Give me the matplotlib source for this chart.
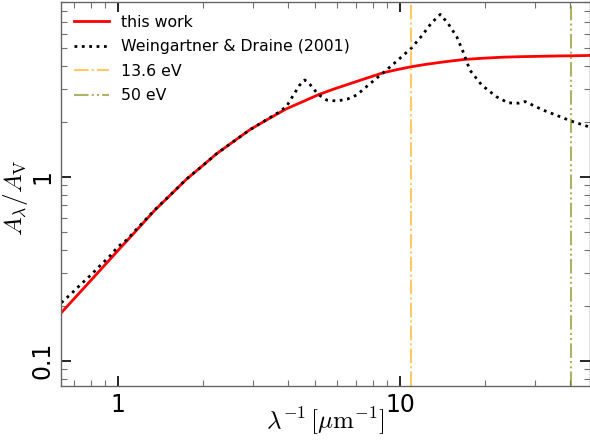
import matplotlib
matplotlib.use("Agg")
import matplotlib.pyplot as plt
from matplotlib.ticker import FixedLocator, NullFormatter

# model curve ("this work"), x in 1/micron
red_x = [0.628, 0.817, 1.0, 1.15, 1.353, 1.55, 1.75, 1.98, 2.24, 2.57, 2.94,
         3.4, 3.96, 4.5, 5.13, 5.8, 6.5, 7.5, 8.73, 9.8, 11.0, 12.4, 13.9,
         15.3, 17.0, 20.0, 23.0, 26.6, 31.0, 36.0, 40.6, 47.2]
red_y = [0.182, 0.283, 0.398, 0.503, 0.661, 0.810, 0.972, 1.14, 1.34, 1.56, 1.81,
         2.06, 2.35, 2.56, 2.80, 3.00, 3.18, 3.42, 3.69, 3.84, 3.98, 4.10, 4.20,
         4.28, 4.36, 4.43, 4.48, 4.51, 4.53, 4.55, 4.56, 4.58]

# Weingartner & Draine (2001)
wd_x = [0.63, 0.685, 0.743, 0.807, 0.863, 0.937, 1.0, 1.074, 1.15, 1.353, 1.55,
        1.75, 1.98, 2.24, 2.57, 2.94, 3.4, 3.7, 3.96, 4.19, 4.40, 4.60, 4.80,
        5.13, 5.5, 5.97, 6.5, 7.02, 7.8, 8.73, 9.8, 11.0, 12.0, 12.9, 13.9,
        14.8, 15.9, 16.8, 17.7, 19.5, 22.0, 24.2, 26.3, 27.8, 32.2, 36.9, 40.6, 46.5]
wd_y = [0.207, 0.233, 0.263, 0.296, 0.329, 0.372, 0.418, 0.455, 0.51, 0.665, 0.812,
        0.975, 1.14, 1.34, 1.56, 1.81, 2.07, 2.24, 2.42, 2.79, 3.15, 3.37, 3.18,
        2.81, 2.62, 2.59, 2.65, 2.79, 3.2, 3.69, 4.3, 5.04, 5.9, 6.85, 7.66,
        6.85, 5.79, 4.74, 3.81, 3.16, 2.73, 2.53, 2.52, 2.57, 2.31, 2.13, 2.01, 1.88]

hc = 1.23984  # eV micron
e_ion = 13.6
e_50 = 50.0

plt.rcParams["mathtext.fontset"] = "cm"

fig = plt.figure(figsize=(5.9, 4.45), dpi=100)
ax = fig.add_axes([0.1034, 0.1326, 0.8966, 0.864])

ax.plot(red_x, red_y, color="red", lw=2, label="this work")
ax.plot(wd_x, wd_y, color="black", lw=2, ls=":", label="Weingartner & Draine (2001)")
ax.axvline(e_ion / hc, color="orange", alpha=0.6, lw=1.5,
           ls=(0, (7, 1.5, 1, 1.5)), label="13.6 eV")
ax.axvline(e_50 / hc, color="olive", alpha=0.6, lw=1.5,
           ls=(0, (7, 1.5, 1, 1.5, 1, 1.5)), label="50 eV")

ax.set_xscale("log")
ax.set_yscale("log")
ax.set_xlim(0.628, 47.2)
ax.set_ylim(0.073, 9.0)

ax.xaxis.set_major_locator(FixedLocator([1, 10]))
ax.set_xticklabels(["1", "10"])
ax.yaxis.set_major_locator(FixedLocator([0.1, 1]))
ax.set_yticklabels(["0.1", "1"], rotation=90, va="center")
ax.xaxis.set_minor_formatter(NullFormatter())
ax.yaxis.set_minor_formatter(NullFormatter())

ax.tick_params(which="both", direction="in", top=True, right=True)
ax.tick_params(which="major", length=7, width=1.2, color="black",
               labelsize=17, pad=5)
ax.tick_params(which="minor", length=4, width=0.8, color="0.45")
for s in ax.spines.values():
    s.set_color("0.4")
    s.set_linewidth(1.0)

ax.set_xlabel(r"$\lambda^{-1}\,[\mu{\rm m}^{-1}]$", fontsize=18)
ax.xaxis.set_label_coords(0.5, -0.05)
ax.set_ylabel(r"$A_\lambda/A_{\rm V}$", fontsize=18)
ax.yaxis.set_label_coords(-0.059, 0.49)

ax.legend(loc="upper left", frameon=False, fontsize=11.3, handlelength=2.2,
          borderaxespad=0.45, labelspacing=0.6)

fig.savefig("out.png")
